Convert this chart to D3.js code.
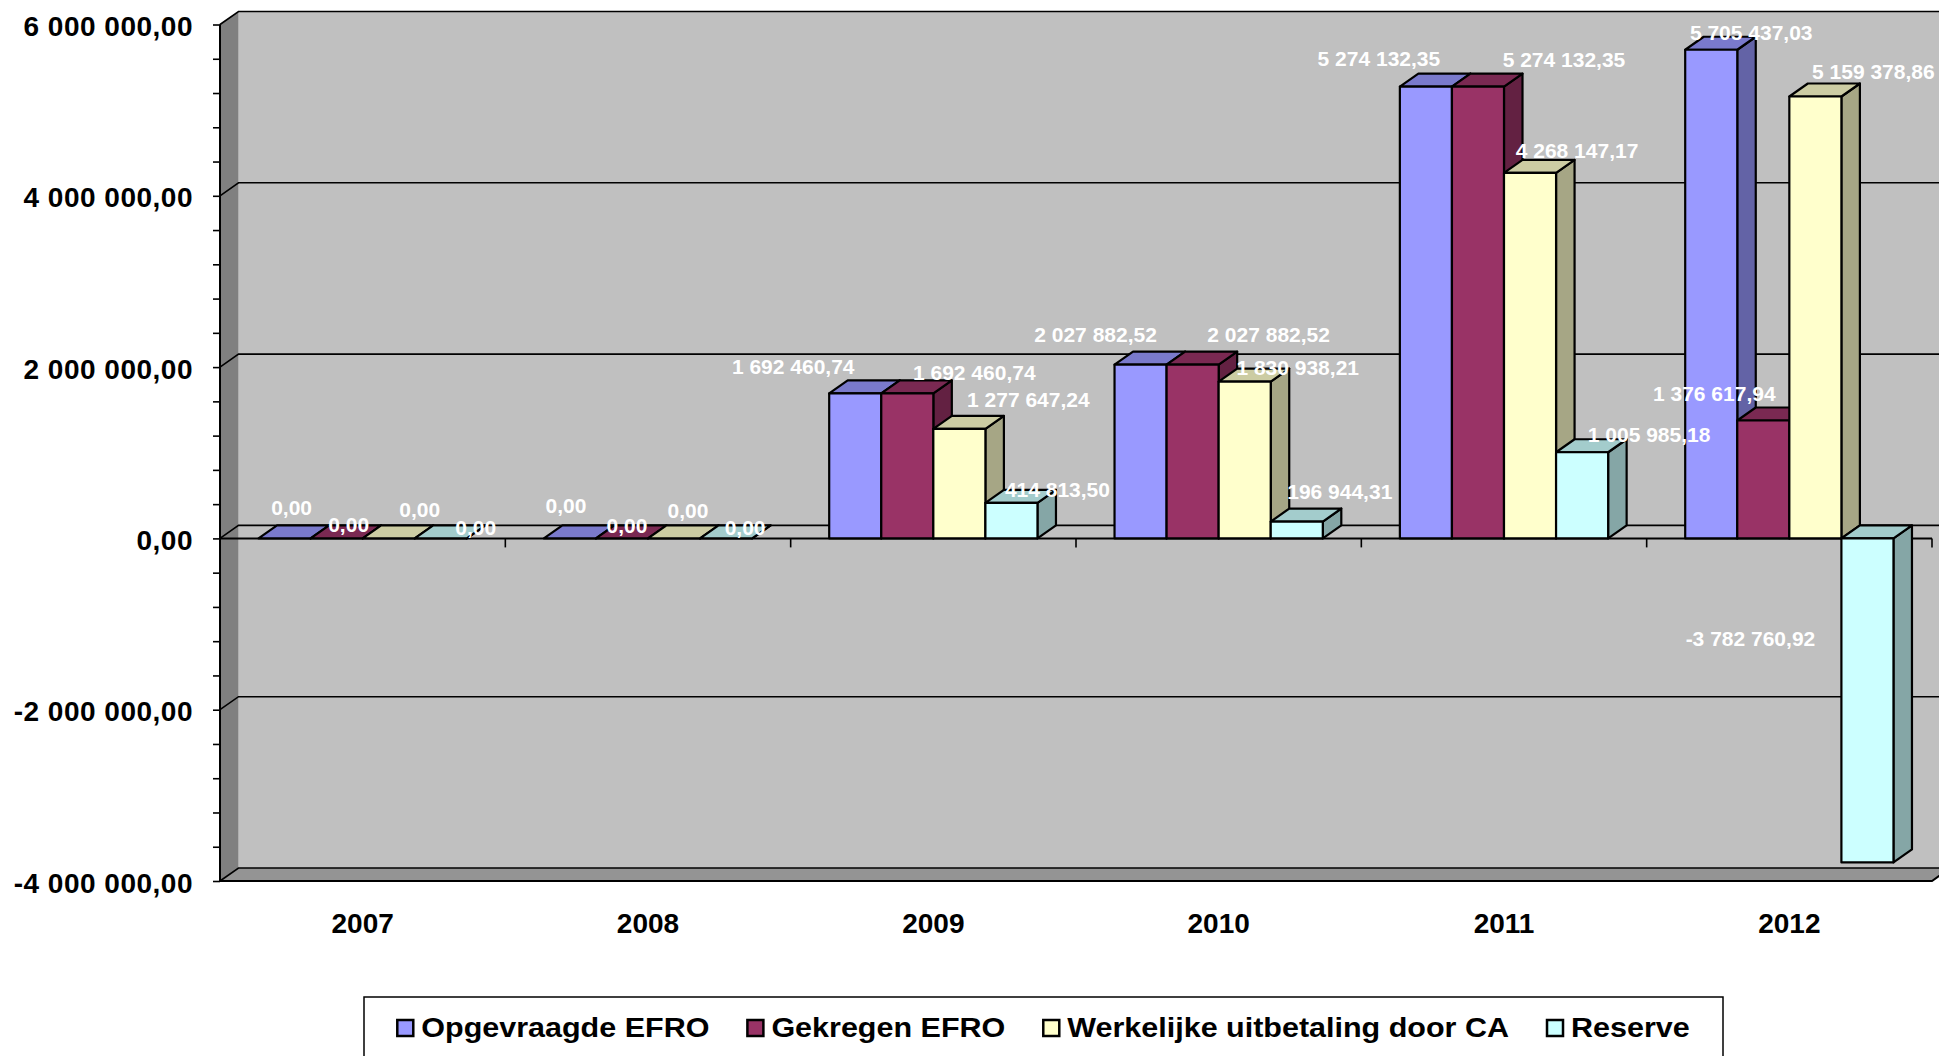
<!DOCTYPE html>
<html>
<head>
<meta charset="utf-8">
<script src="https://cdn.jsdelivr.net/npm/d3@7"></script>
<style>
  html, body { margin: 0; padding: 0; background: #fff; overflow: hidden; }
  svg { display: block; font-family: "Liberation Sans", Arial, sans-serif; }
</style>
</head>
<body>
<svg id="chart" width="1939" height="1056"></svg>
<script>
// ---- data ----
const years = ["2007", "2008", "2009", "2010", "2011", "2012"];
const seriesNames = ["Opgevraagde EFRO", "Gekregen EFRO", "Werkelijke uitbetaling door CA", "Reserve"];
const opgevraagdeEfro = [0, 0, 1692460.74, 2027882.52, 5274132.35, 5705437.03];
const gekregenEfro    = [0, 0, 1692460.74, 2027882.52, 5274132.35, 1376617.94];
const uitbetalingCa   = [0, 0, 1277647.24, 1830938.21, 4268147.17, 5159378.86];
const reserve         = [0, 0, 414813.50, 196944.31, 1005985.18, -3782760.92];
const yTickValues = [-4000000, -2000000, 0, 2000000, 4000000, 6000000];

// hand-placed nudges for the value labels, [dx, dy] per year
const labelNudgeOpgevraagde = [[7, -23], [-4, -25], [-62, -19], [-45, -23], [-47, -21], [40, -10]];
const labelNudgeGekregen    = [[12, -6], [5, -5], [67, -13], [76, -23], [86, -20], [-49, -19]];
const labelNudgeUitbetaling = [[31, -21], [14, -20], [69, -22], [53, -7], [47, -15], [58, -17]];
const labelNudgeReserve     = [[35, -3], [19, -3], [46, -6], [43, -23], [67, -10], [-117, 108]];

const seriesValues = [opgevraagdeEfro, gekregenEfro, uitbetalingCa, reserve];
const labelNudges = [labelNudgeOpgevraagde, labelNudgeGekregen, labelNudgeUitbetaling, labelNudgeReserve];

// ---- styling ----
const faceColors = ["#9999ff", "#993366", "#ffffcc", "#ccffff"];
const shade = (c, k) => { const r = d3.rgb(c); return d3.rgb(r.r * k, r.g * k, r.b * k).formatHex(); };

const loc = d3.formatLocale({ decimal: ",", thousands: " ", grouping: [3], currency: ["", ""], minus: "-" });
const fmt = loc.format(",.2f");

const svg = d3.select("#chart");
const plotLeft = 220, plotRight = 1932, plotTop = 24.5, plotBottom = 881;
const ddx = 18.5, ddy = -13;   // depth offset of the 3D box

const x = d3.scaleBand().domain(years).range([plotLeft, plotRight]);
const xs = d3.scaleBand().domain(seriesNames).range([0, x.bandwidth()]).paddingInner(0).paddingOuter(0.74);
const y = d3.scaleLinear().domain([-4000000, 6000000]).range([plotBottom, plotTop]);

const poly = pts => "M" + pts.map(p => p.join(",")).join("L") + "Z";

// ---- walls & floor ----
const g = svg.append("g");
g.append("path") // back wall
  .attr("d", poly([[plotLeft + ddx, plotTop + ddy], [plotRight + ddx + 40, plotTop + ddy], [plotRight + ddx + 40, plotBottom + ddy], [plotLeft + ddx, plotBottom + ddy]]))
  .attr("fill", "#c0c0c0");
g.append("path") // side wall
  .attr("d", poly([[plotLeft, plotTop], [plotLeft + ddx, plotTop + ddy], [plotLeft + ddx, plotBottom + ddy], [plotLeft, plotBottom]]))
  .attr("fill", "#808080");
g.append("path") // floor
  .attr("d", poly([[plotLeft, plotBottom], [plotLeft + ddx, plotBottom + ddy], [plotRight + ddx, plotBottom + ddy], [plotRight, plotBottom]]))
  .attr("fill", "#949494");

// gridlines on back and side walls
yTickValues.forEach(v => {
  const yy = y(v);
  g.append("path")
    .attr("d", `M${plotLeft},${yy}L${plotLeft + ddx},${yy + ddy}L${plotRight + ddx + 40},${yy + ddy}`)
    .attr("fill", "none").attr("stroke", "#000").attr("stroke-width", 1.6);
});

// floor front edge
g.append("path")
  .attr("d", `M${plotLeft},${plotBottom}L${plotRight},${plotBottom}L${plotRight + ddx},${plotBottom + ddy}`)
  .attr("fill", "none").attr("stroke", "#000").attr("stroke-width", 2);

// ---- y axis ----
const yAxis = d3.axisLeft(y)
  .tickValues(d3.range(-4000000, 6000001, 400000))
  .tickSize(7)
  .tickFormat(d => yTickValues.includes(d) ? fmt(d) : "");
const ya = svg.append("g").attr("transform", `translate(${plotLeft},0)`).call(yAxis);
ya.select(".domain").attr("stroke", "#000").attr("stroke-width", 2).attr("d", `M0,${plotTop}V${plotBottom}`);
ya.selectAll(".tick line").attr("stroke", "#000").attr("stroke-width", 1.6);
ya.selectAll(".tick text")
  .attr("x", -27).attr("dy", null).attr("y", 11)
  .attr("fill", "#000")
  .style("font-size", "28px").style("font-weight", "bold").style("letter-spacing", "0.5px")
  .style("font-family", "'Liberation Sans', Arial, sans-serif");

// ---- x axis at zero ----
const xAxis = d3.axisBottom(x).tickSize(0).tickFormat("");
const xa = svg.append("g").attr("transform", `translate(0,${y(0)})`).call(xAxis);
xa.select(".domain").attr("stroke", "#000").attr("stroke-width", 2).attr("d", `M${plotLeft},0H${plotRight}`);
xa.selectAll(".tick").remove();
years.slice(1).concat([null]).forEach(yr => {
  const bx = yr === null ? plotRight : x(yr);
  xa.append("line").attr("x1", bx).attr("x2", bx).attr("y1", 0).attr("y2", 9)
    .attr("stroke", "#000").attr("stroke-width", 1.6);
});

// year labels
svg.append("g").selectAll("text").data(years).join("text")
  .attr("x", d => x(d) + x.bandwidth() / 2)
  .attr("y", 933)
  .attr("text-anchor", "middle")
  .style("font-size", "28px").style("font-weight", "bold")
  .text(d => d);

// ---- 3D columns, drawn left to right so nearer faces cover farther ones ----
const bars = svg.append("g").attr("stroke", "#000").attr("stroke-width", 2.2).attr("stroke-linejoin", "round");
years.forEach((yr, yi) => {
  seriesNames.forEach((s, si) => {
    const v = seriesValues[si][yi];
    const x0 = x(yr) + xs(s), x1 = x0 + xs.bandwidth();
    const yT = y(Math.max(v, 0)), yB = y(Math.min(v, 0));
    const c = faceColors[si];
    bars.append("path").attr("fill", shade(c, 0.65))
      .attr("d", poly([[x1, yT], [x1 + ddx, yT + ddy], [x1 + ddx, yB + ddy], [x1, yB]]));
    bars.append("path").attr("fill", shade(c, 0.8))
      .attr("d", poly([[x0, yT], [x0 + ddx, yT + ddy], [x1 + ddx, yT + ddy], [x1, yT]]));
    if (yB - yT > 0.5) {
      bars.append("path").attr("fill", c)
        .attr("d", poly([[x0, yT], [x1, yT], [x1, yB], [x0, yB]]));
    }
  });
});

// ---- value labels ----
const labels = svg.append("g")
  .attr("fill", "#fff").attr("text-anchor", "middle")
  .style("font-size", "21px").style("font-weight", "bold");
years.forEach((yr, yi) => {
  seriesNames.forEach((s, si) => {
    const v = seriesValues[si][yi];
    const cx = x(yr) + xs(s) + xs.bandwidth() / 2;
    const [ndx, ndy] = labelNudges[si][yi];
    labels.append("text")
      .attr("x", cx + ndx)
      .attr("y", y(Math.max(v, 0)) + ndy)
      .text(fmt(v));
  });
});

// ---- legend ----
const legendBox = { x: 364, y: 997, w: 1359, h: 80 };
const lg = svg.append("g");
lg.append("rect")
  .attr("x", legendBox.x).attr("y", legendBox.y).attr("width", legendBox.w).attr("height", legendBox.h)
  .attr("fill", "#fff").attr("stroke", "#000").attr("stroke-width", 1.5);
const stretch = 1.09, sq = 16, sqGap = 8, itemGap = 38;
const items = lg.selectAll("g.item").data(seriesNames).join("g").attr("class", "item");
items.append("rect")
  .attr("width", sq).attr("height", sq).attr("y", -sq - 1)
  .attr("fill", (d, i) => faceColors[i]).attr("stroke", "#000").attr("stroke-width", 2.5);
items.append("text")
  .attr("transform", `translate(${sq + sqGap},0) scale(${stretch},1)`)
  .style("font-size", "28px").style("font-weight", "bold")
  .text(d => d);
const widths = [];
items.each(function () {
  widths.push(sq + sqGap + d3.select(this).select("text").node().getComputedTextLength() * stretch);
});
const total = d3.sum(widths) + itemGap * (widths.length - 1);
let cur = legendBox.x + legendBox.w / 2 - total / 2;
items.attr("transform", (d, i) => {
  const t = `translate(${cur},1037)`;
  cur += widths[i] + itemGap;
  return t;
});
</script>
</body>
</html>
